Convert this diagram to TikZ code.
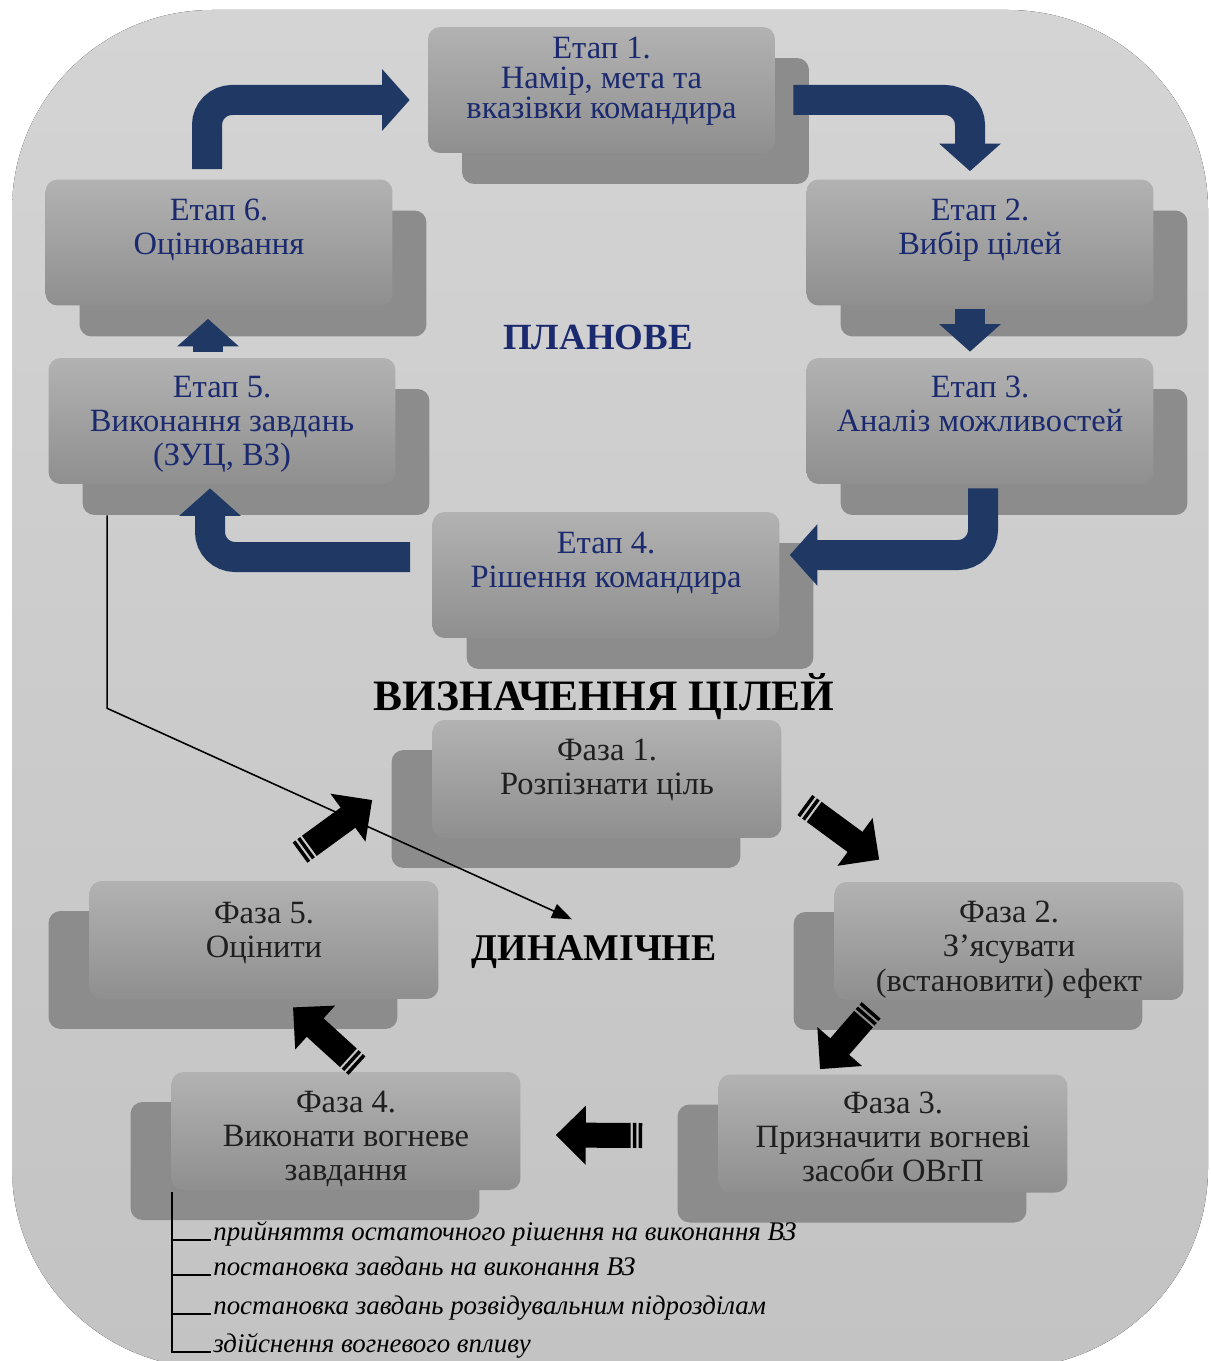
\documentclass[tikz,border=0pt]{standalone}
\usepackage{fontspec}
\setmainfont{Liberation Serif}
\usetikzlibrary{arrows.meta,positioning}
\definecolor{navy}{HTML}{1F3864}
\definecolor{navytext}{HTML}{1B2A6E}
\definecolor{bgtop}{HTML}{D4D4D4}
\definecolor{bgbot}{HTML}{C3C3C3}
\definecolor{boxtop}{HTML}{B2B2B2}
\definecolor{boxbot}{HTML}{8F8F8F}
\definecolor{boxback}{HTML}{8C8C8C}
\pgfdeclarelayer{bg}
\pgfdeclarelayer{back}
\pgfsetlayers{bg,back,main}

\tikzset{
  stage/.style={rounded corners=0.24cm, minimum width=6.94cm, minimum height=2.52cm,
    top color=boxtop, bottom color=boxbot, inner sep=0},
  stageback/.style={rounded corners=0.24cm, minimum width=6.94cm, minimum height=2.52cm,
    fill=boxback, inner sep=0},
  phase/.style={stage, minimum width=6.98cm, minimum height=2.36cm},
  phaseback/.style={stageback, minimum width=6.98cm, minimum height=2.36cm},
  stagetext/.style={align=center, text=navytext, font=\fontsize{18.5}{19.5}\selectfont,
    anchor=north, inner sep=0},
  phasetext/.style={stagetext, text=black!88},
  planarrow/.style={draw=navy, line width=0.6cm, rounded corners=0.5cm,
    -{Triangle[width=1.2cm, length=0.55cm]}},
  fatarrow/.style={draw=black, line width=0.5cm,
    dash pattern=on 2pt off 1.3pt on 2pt off 1.3pt on 200pt off 0pt,
    -{Triangle[width=1.15cm, length=0.6cm]}},
  listline/.style={line width=0.8pt},
  listtext/.style={anchor=base west, inner sep=0, font=\fontsize{15.3}{16}\selectfont\itshape},
}

\begin{document}
\begin{tikzpicture}[x=0.02cm, y=-0.02cm]
  \useasboundingbox (0,0) rectangle (1210,1361);
  \begin{pgfonlayer}{bg}
    \fill[top color=bgtop, bottom color=bgbot, rounded corners=4cm] (12,10) rectangle (1208,1368);
  \end{pgfonlayer}

  % Planned stages
  \node[stage] (s1) at (601.5,90) {};
  \node[stage] (s2) at (980,242.5) {};
  \node[stage] (s3) at (980,421) {};
  \node[stage] (s4) at (606,575) {};
  \node[stage] (s5) at (222,421) {};
  \node[stage] (s6) at (219,242.5) {};
  \begin{pgfonlayer}{back}
    \foreach \s in {s1,s2,s3,s4,s5,s6}
      \node[stageback] (\s b) at ([shift={(34,31)}]\s.center) {};
  \end{pgfonlayer}

  \node[stagetext, font=\fontsize{18.5}{17.2}\selectfont] at ([shift={(0,10)}]s1.north) {Етап 1.\\Намір, мета та\\вказівки командира};
  \node[stagetext] at ([shift={(0,19)}]s2.north) {Етап 2.\\Вибір цілей};
  \node[stagetext] at ([shift={(0,18)}]s3.north) {Етап 3.\\Аналіз можливостей};
  \node[stagetext] at ([shift={(0,20)}]s4.north) {Етап 4.\\Рішення командира};
  \node[stagetext] at ([shift={(0,18)}]s5.north) {Етап 5.\\Виконання завдань\\(ЗУЦ, ВЗ)};
  \node[stagetext] at ([shift={(0,19)}]s6.north) {Етап 6.\\Оцінювання};

  \draw[planarrow] ([shift={(-12,-10)}]s6.north) |- ([shift={(-18,10)}]s1.west);
  \draw[planarrow] ([shift={(18,10)}]s1.east) -| ([shift={(-10,-8)}]s2.north);
  \draw[planarrow] ([shift={(-10,3)}]s2.south) -- ([shift={(-10,-6)}]s3.north);
  \draw[planarrow] ([shift={(3,4)}]s3.south) |- ([shift={(10,-20)}]s4.east);
  \draw[planarrow] ([shift={(-22,-18)}]s4.west) -| ([shift={(-12,4)}]s5.south);
  \draw[planarrow] ([shift={(-14,-6)}]s5.north) -- ([shift={(-11,13)}]s6.south);

  \node[font=\fontsize{21}{21}\selectfont\bfseries, text=navytext] (plan) at (598,337) {ПЛАНОВЕ};
  \node[font=\fontsize{24.7}{24}\selectfont\bfseries] (title) at (604,697) {ВИЗНАЧЕННЯ ЦІЛЕЙ};
  \node[font=\fontsize{21.5}{21}\selectfont\bfseries] (dyn) at (594,952) {ДИНАМІЧНЕ};

  % Dynamic phases
  \node[phase] (p1) at (607,779) {};
  \node[phase] (p2) at (1009,941) {};
  \node[phase] (p3) at (893,1133.5) {};
  \node[phase] (p4) at (346,1131) {};
  \node[phase] (p5) at (264,940) {};
  \begin{pgfonlayer}{back}
    \foreach \p in {p1,p2,p3,p4,p5}
      \node[phaseback] (\p b) at ([shift={(-41,30)}]\p.center) {};
  \end{pgfonlayer}

  \node[phasetext] at ([shift={(0,19)}]p1.north) {Фаза 1.\\Розпізнати ціль};
  \node[phasetext] at ([shift={(0,19)}]p2.north) {Фаза 2.\\З’ясувати\\(встановити) ефект};
  \node[phasetext] at ([shift={(0,17)}]p3.north) {Фаза 3.\\Призначити вогневі\\засоби ОВгП};
  \node[phasetext] at ([shift={(0,19)}]p4.north) {Фаза 4.\\Виконати вогневе\\завдання};
  \node[phasetext] at ([shift={(0,21)}]p5.north) {Фаза 5.\\Оцінити};

  \draw[fatarrow] ([shift={(36,-28)}]p5.north) -- ([shift={(-60,21)}]p1.west);
  \draw[fatarrow] ([shift={(23,26)}]p1.east) -- ([shift={(45,-22)}]p2.north west);
  \draw[fatarrow] ([shift={(37,10)}]p2.south west) -- ([shift={(-73,-5)}]p3.north);
  \draw[fatarrow] ([shift={(-76,2)}]p3.west) -- ([shift={(35,4)}]p4.east);
  \draw[fatarrow] ([shift={(11,-6)}]p4.north) -- ([shift={(29,8)}]p5.south);

  % link from stage 5 to dynamic targeting
  \draw[line width=0.9pt, -{Triangle[length=0.4cm, width=0.3cm]}]
    ([shift={(25,0)}]s5b.south west) -- ++(0,193) -- ([shift={(-22,-10)}]dyn.north);

  % tasks of phase 4
  \node[listtext] (i1) at (213,1240) {прийняття остаточного рішення на виконання ВЗ};
  \node[listtext] (i2) at (213,1275) {постановка завдань на виконання ВЗ};
  \node[listtext] (i3) at (213,1314) {постановка завдань розвідувальним підрозділам};
  \node[listtext] (i4) at (213,1352) {здійснення вогневого впливу};
  \coordinate (trunk) at ([shift={(1,2)}]p4.south west);
  \draw[listline] (trunk) |- ([shift={(-2,0)}]i4.base west);
  \foreach \i in {1,2,3}
    \draw[listline] (i\i.base west -| trunk) -- ([shift={(-2,0)}]i\i.base west);
\end{tikzpicture}
\end{document}
